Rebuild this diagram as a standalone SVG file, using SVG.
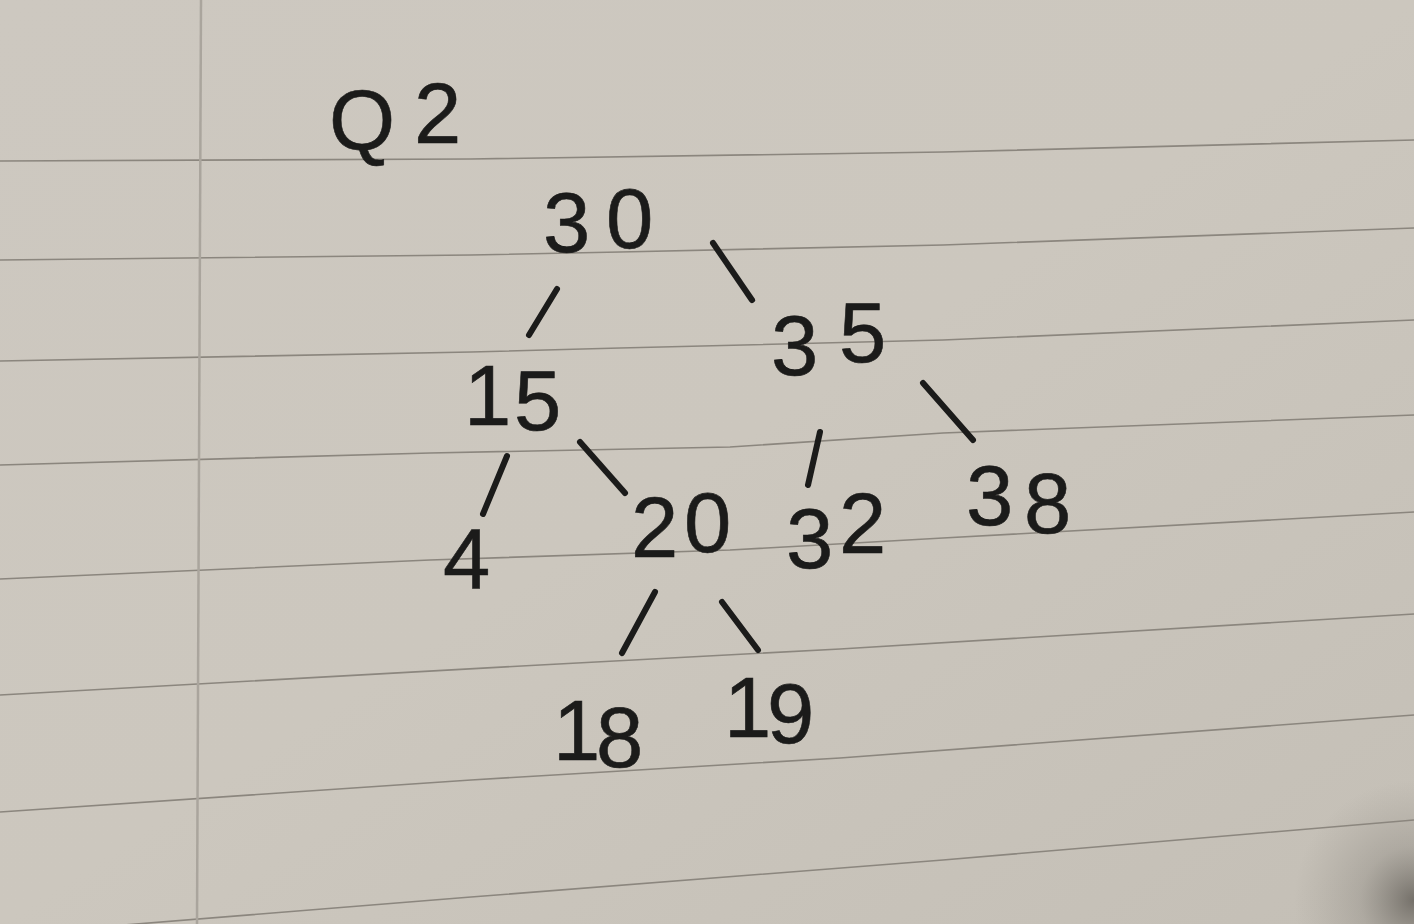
<svg xmlns="http://www.w3.org/2000/svg" width="1414" height="924" viewBox="0 0 1414 924">
  <defs>
    <linearGradient id="paper" x1="0" y1="0" x2="1" y2="1">
      <stop offset="0" stop-color="#cdc8c0"/>
      <stop offset="0.5" stop-color="#ccc7be"/>
      <stop offset="1" stop-color="#c4bfb6"/>
    </linearGradient>
    <radialGradient id="shadow" cx="1414" cy="900" r="120" gradientUnits="userSpaceOnUse">
      <stop offset="0" stop-color="#5a5650" stop-opacity="0.75"/>
      <stop offset="0.45" stop-color="#7a766f" stop-opacity="0.3"/>
      <stop offset="1" stop-color="#8a857d" stop-opacity="0"/>
    </radialGradient>
    <style>
      .rule { fill: none; stroke: #8b867e; stroke-width: 1.6; }
      .margin { fill: none; stroke: #aaa59d; stroke-width: 2.5; }
      .ink { font-family: "Liberation Sans", "DejaVu Sans", sans-serif; font-size: 85px; fill: #1b1b1a; stroke: #1b1b1a; stroke-width: 0.6; }
      .edge { stroke: #1b1b1a; stroke-width: 6; stroke-linecap: round; fill: none; }
    </style>
  </defs>

  <rect x="0" y="0" width="1414" height="924" fill="url(#paper)"/>
  <rect x="1260" y="760" width="154" height="164" fill="url(#shadow)"/>

  <g id="paper-lines">
    <polyline class="rule" points="0,161 471,159 943,152 1414,140"/>
    <polyline class="rule" points="0,260 471,255 620,252 943,245 1414,228"/>
    <polyline class="rule" points="0,361 471,352 620,348 943,340 1414,320"/>
    <polyline class="rule" points="0,465 430,453 730,447 943,433 1414,415"/>
    <polyline class="rule" points="0,579 430,560 730,550 943,538 1414,512"/>
    <polyline class="rule" points="0,695 540,665 840,649 1414,614"/>
    <polyline class="rule" points="0,812 471,780 840,758 1414,715"/>
    <polyline class="rule" points="0,935 471,897 943,860 1414,820"/>
    <line class="margin" x1="201" y1="0" x2="197" y2="924"/>
  </g>

  <g id="title">
    <text class="ink" x="329 414" y="150 143">Q2</text>
  </g>

  <g id="connectors">
    <line class="edge" x1="557" y1="289" x2="529" y2="335"/>
    <line class="edge" x1="713" y1="243" x2="752" y2="300"/>
    <line class="edge" x1="507" y1="456" x2="483" y2="514"/>
    <line class="edge" x1="580" y1="442" x2="625" y2="493"/>
    <line class="edge" x1="820" y1="432" x2="808" y2="485"/>
    <line class="edge" x1="923" y1="383" x2="973" y2="440"/>
    <line class="edge" x1="655" y1="592" x2="622" y2="653"/>
    <line class="edge" x1="722" y1="602" x2="758" y2="650"/>
  </g>

  <g id="node-30"><text class="ink" x="543 606" y="252 248">30</text></g>
  <g id="node-15"><text class="ink" x="464 514" y="425 430">15</text></g>
  <g id="node-35"><text class="ink" x="771 839" y="375 362">35</text></g>
  <g id="node-4"><text class="ink" x="443" y="588">4</text></g>
  <g id="node-20"><text class="ink" x="631 684" y="557 552">20</text></g>
  <g id="node-32"><text class="ink" x="786 839" y="568 553">32</text></g>
  <g id="node-38"><text class="ink" x="966 1024" y="525 533">38</text></g>
  <g id="node-18"><text class="ink" x="553 596" y="760 767">18</text></g>
  <g id="node-19"><text class="ink" x="724 767" y="737 743">19</text></g>
</svg>
